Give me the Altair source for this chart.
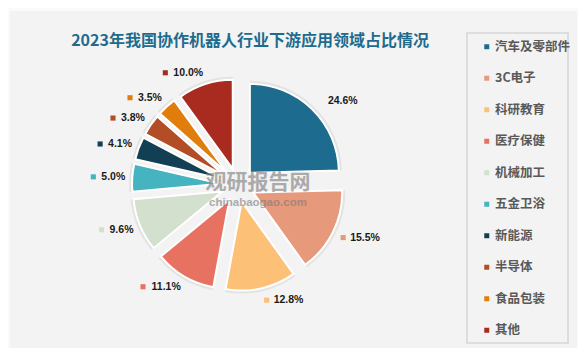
import altair as alt
import pandas as pd

# ---- data ----
categories = ["汽车及零部件", "3C电子", "科研教育", "医疗保健", "机械加工",
              "五金卫浴", "新能源", "半导体", "食品包装", "其他"]
values = [24.6, 15.5, 12.8, 11.1, 9.6, 5.0, 4.1, 3.8, 3.5, 10.0]
colors = ["#1d6b8e", "#e6997b", "#fdc077", "#e87262", "#d3e0cd",
          "#46b3c1", "#133f55", "#b24d26", "#e17d0c", "#a92a1e"]
labels = [f"{v:.1f}%" for v in values]

title_text = "2023年我国协作机器人行业下游应用领域占比情况"
watermark_cn = "观研报告网"
watermark_en = "chinabaogao.com"

df = pd.DataFrame({"cat": categories, "value": values,
                   "order": list(range(len(categories))), "label": labels})
one = pd.DataFrame({"k": [0]})

# ---- layout constants ----
W, H = 570, 340
CX, CY = 230, 177
EXPLODE = 17
R = 89
LABEL_R = 113
FS = 10.5

base = (
    alt.Chart(df)
    .transform_joinaggregate(total="sum(value)")
    .transform_window(cum="sum(value)", sort=[alt.SortField("order", order="ascending")],
                      frame=[None, 0])
    .transform_calculate(t0="2*PI*(datum.cum-datum.value)/datum.total")
    .transform_calculate(t1="2*PI*datum.cum/datum.total")
    .transform_calculate(mid="(datum.t0+datum.t1)/2")
    .transform_calculate(sx="sin(datum.mid)")
    .transform_calculate(cx_="cos(datum.mid)")
    .transform_calculate(px=f"{CX}+{EXPLODE}*datum.sx")
    .transform_calculate(py=f"{CY}-{EXPLODE}*datum.cx_")
    .transform_calculate(ax=f"{CX}+{LABEL_R}*datum.sx")
    .transform_calculate(ay=f"{CY}-{LABEL_R}*datum.cx_-5*datum.cx_")
    .transform_calculate(tw=f"{FS}*(0.556*(length(datum.label)-2)+1.167)")
    .transform_calculate(tx="datum.ax+11")
    .transform_calculate(mx="datum.sx >= 0 ? datum.ax+4 : datum.ax-datum.tw-8")
)

color = alt.Color(
    "cat:N",
    scale=alt.Scale(domain=categories, range=colors),
    legend=alt.Legend(
        orient="none", legendX=472.5, legendY=32.5, title=None,
        symbolType="square", symbolSize=25, symbolStrokeWidth=0, symbolOpacity=1,
        labelFont="Noto Sans CJK SC", labelFontSize=12.5, labelFontWeight="bold",
        labelColor="#595959", labelOffset=2, rowPadding=18.5, padding=0, labelLimit=200,
    ),
)

panel = alt.Chart(one).mark_rect(color="#f3f3f3").encode(
    x=alt.value(2), x2=alt.value(569), y=alt.value(3), y2=alt.value(340))

legend_box = alt.Chart(one).mark_rect(fillOpacity=0, stroke="#d6d6d6", strokeWidth=1.5).encode(
    x=alt.value(459), x2=alt.value(560), y=alt.value(25), y2=alt.value(335))

title = alt.Chart(one).mark_text(
    text=title_text, font="Noto Sans CJK SC", fontSize=16, fontWeight="bold",
    color="#1f6b8d", align="center", baseline="middle").encode(
    x=alt.value(242), y=alt.value(33))

shadow = base.mark_arc(outerRadius=R + 3, color="#9a9a9a", opacity=0.18).encode(
    x=alt.X("px:Q", scale=None, axis=None),
    y=alt.Y("py:Q", scale=None, axis=None),
    theta=alt.Theta("t0:Q", scale=None),
    theta2="t1:Q",
)

arcs = base.mark_arc(outerRadius=R, stroke="white", strokeWidth=2).encode(
    x=alt.X("px:Q", scale=None, axis=None),
    y=alt.Y("py:Q", scale=None, axis=None),
    theta=alt.Theta("t0:Q", scale=None),
    theta2="t1:Q",
    color=color,
)

markers = base.transform_filter("datum.order > 0").mark_square(size=26, opacity=1).encode(
    x=alt.X("mx:Q", scale=None, axis=None),
    y=alt.Y("ay:Q", scale=None, axis=None),
    color=color,
)

text_right = base.transform_filter("datum.sx >= 0").mark_text(
    align="left", baseline="middle", font="Liberation Sans", fontSize=FS,
    fontWeight="bold", color="#1a1a1a").encode(
    x=alt.X("tx:Q", scale=None, axis=None),
    y=alt.Y("ay:Q", scale=None, axis=None),
    text="label:N",
)

text_left = base.transform_filter("datum.sx < 0").mark_text(
    align="right", baseline="middle", font="Liberation Sans", fontSize=FS,
    fontWeight="bold", color="#1a1a1a").encode(
    x=alt.X("ax:Q", scale=None, axis=None),
    y=alt.Y("ay:Q", scale=None, axis=None),
    text="label:N",
)

wm1 = alt.Chart(one).mark_text(
    text=watermark_cn, font="Noto Sans CJK SC", fontSize=21, fontWeight="bold",
    color="#7a7a7a", opacity=0.6, align="center", baseline="middle").encode(
    x=alt.value(250), y=alt.value(175))
wm2 = alt.Chart(one).mark_text(
    text=watermark_en, font="Liberation Sans", fontSize=11.5, fontWeight="bold",
    color="#7a7a7a", opacity=0.6, align="center", baseline="middle").encode(
    x=alt.value(250), y=alt.value(195))

chart = (
    alt.layer(panel, legend_box, title, shadow, arcs, markers, text_right, text_left, wm1, wm2)
    .properties(width=W, height=H, padding=0, background="#fafafa",
                autosize=alt.AutoSizeParams(type="fit", contains="padding"))
    .configure_view(stroke=None)
)

chart.save("out.html", embed_options={"renderer": "svg", "actions": False})
